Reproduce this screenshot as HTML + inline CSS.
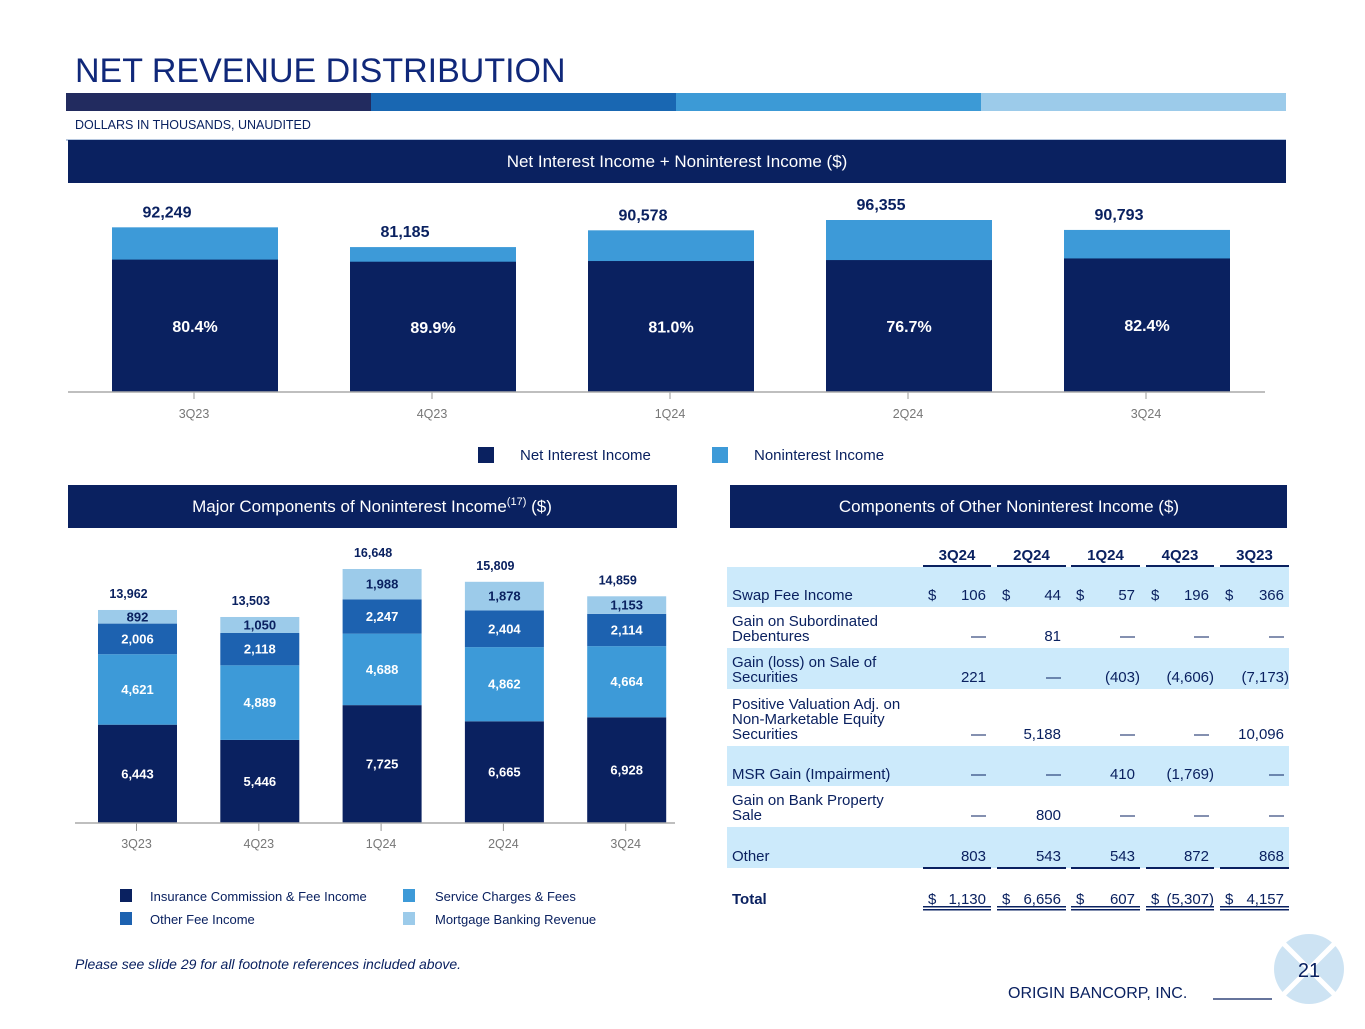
<!DOCTYPE html>
<html><head><meta charset="utf-8"><style>
html,body{margin:0;padding:0;background:#fff;}
body{width:1365px;height:1024px;overflow:hidden;font-family:"Liberation Sans",Arial,sans-serif;}
svg text{font-family:"Liberation Sans",Arial,sans-serif;}
</style></head><body>
<svg id="s" width="1365" height="1024" viewBox="0 0 1365 1024" xmlns="http://www.w3.org/2000/svg">
<text x="75" y="82" font-size="34" fill="#10287a">NET REVENUE DISTRIBUTION</text>
<g>
<rect x="66" y="93" width="305" height="18" fill="#222b5f"/>
<rect x="371" y="93" width="305" height="18" fill="#1967b2"/>
<rect x="676" y="93" width="305" height="18" fill="#3c9ad6"/>
<rect x="981" y="93" width="305" height="18" fill="#9ccbea"/>
</g>
<text x="75" y="129" font-size="12.5" fill="#0a2160">DOLLARS IN THOUSANDS, UNAUDITED</text>
<line x1="66" y1="140" x2="1286" y2="140" stroke="#6d8fbf" stroke-width="1"/>
<rect x="68" y="140" width="1218" height="43" fill="#0a2160"/>
<text x="677" y="167" font-size="17" fill="#fff" text-anchor="middle">Net Interest Income + Noninterest Income ($)</text>
<g id="top"></g>
<g>
<rect x="478" y="447" width="16" height="16" fill="#0a2160"/>
<text x="520" y="460" font-size="15" fill="#0a2160">Net Interest Income</text>
<rect x="712" y="447" width="16" height="16" fill="#3d9ad8"/>
<text x="754" y="460" font-size="15" fill="#0a2160">Noninterest Income</text>
</g>
<rect x="68" y="485" width="609" height="43" fill="#0a2160"/>
<text x="372" y="512" font-size="17" fill="#fff" text-anchor="middle">Major Components of Noninterest Income<tspan font-size="11" dy="-7">(17)</tspan><tspan dy="7"> ($)</tspan></text>
<g id="bot"></g>
<g font-size="13" fill="#0a2160">
<rect x="120" y="889" width="12" height="13" fill="#0a2160"/><text x="150" y="901">Insurance Commission &amp; Fee Income</text>
<rect x="403" y="889" width="12" height="13" fill="#3d9ad8"/><text x="435" y="901">Service Charges &amp; Fees</text>
<rect x="120" y="912" width="12" height="13" fill="#1d62b0"/><text x="150" y="924">Other Fee Income</text>
<rect x="403" y="912" width="12" height="13" fill="#9ccbea"/><text x="435" y="924">Mortgage Banking Revenue</text>
</g>
<text x="75" y="969" font-size="14" font-style="italic" fill="#0a2160">Please see slide 29 for all footnote references included above.</text>
<rect x="730" y="485" width="557" height="43" fill="#0a2160"/>
<text x="1009" y="512" font-size="17" fill="#fff" text-anchor="middle">Components of Other Noninterest Income ($)</text>
<g id="tbl"></g>
<text x="1008" y="998" font-size="16" fill="#0a2160">ORIGIN BANCORP, INC.</text>
<line x1="1213" y1="999" x2="1272" y2="999" stroke="#0a2160" stroke-width="1.2"/>
<g>
<circle cx="1309" cy="969" r="35" fill="#cde3f3"/>
<line x1="1284" y1="944" x2="1334" y2="994" stroke="#fff" stroke-width="5"/>
<line x1="1334" y1="944" x2="1284" y2="994" stroke="#fff" stroke-width="5"/>
<text x="1309" y="977" font-size="20" fill="#0a2160" text-anchor="middle">21</text>
</g>
</svg>
<script>
const NS="http://www.w3.org/2000/svg";
function mk(p,t,a,txt){const e=document.createElementNS(NS,t);for(const k in a)e.setAttribute(k,a[k]);if(txt!==undefined)e.textContent=txt;p.appendChild(e);return e;}

// top chart data
const topCats=["3Q23","4Q23","1Q24","2Q24","3Q24"];
const topTotals=[92249,81185,90578,96355,90793];
const topNiiPct=[80.4,89.9,81.0,76.7,82.4];
const topTotalLabels=["92,249","81,185","90,578","96,355","90,793"];

// bottom chart data
const botCats=["3Q23","4Q23","1Q24","2Q24","3Q24"];
const insurance=[6443,5446,7725,6665,6928];
const service=[4621,4889,4688,4862,4664];
const otherFee=[2006,2118,2247,2404,2114];
const mortgage=[892,1050,1988,1878,1153];

// table data
const tblCols=["3Q24","2Q24","1Q24","4Q23","3Q23"];
const tblRows=[
 ["Swap Fee Income"],
 ["Gain on Subordinated","Debentures"],
 ["Gain (loss) on Sale of","Securities"],
 ["Positive Valuation Adj. on","Non-Marketable Equity","Securities"],
 ["MSR Gain (Impairment)"],
 ["Gain on Bank Property","Sale"],
 ["Other"]];
const tblVals=[
 ["106","44","57","196","366"],
 ["—","81","—","—","—"],
 ["221","—","(403)","(4,606)","(7,173)"],
 ["—","5,188","—","—","10,096"],
 ["—","—","410","(1,769)","—"],
 ["—","800","—","—","—"],
 ["803","543","543","872","868"]];
const tblTotals=["1,130","6,656","607","(5,307)","4,157"];

function fmt(v){return v.toLocaleString("en-US");}

// top chart
(function(){
 const g=document.getElementById("top");
 const base=392, sc=172/96355, x0=112, step=238, w=166;
 const yv=v=>base-v*sc;
 topCats.forEach((c,i)=>{
  const x=x0+i*step, tot=topTotals[i], nii=tot*topNiiPct[i]/100;
  let r=mk(g,"rect",{x:x,y:yv(tot),width:w,height:tot*sc,fill:"#3d9ad8"});
  
  
  r=mk(g,"rect",{x:x,y:yv(nii),width:w,height:nii*sc,fill:"#0a2160"});
  
  
  let t=mk(g,"text",{x:x+w/2,y:(yv(nii)+base)/2+6,"font-size":16,"font-weight":"bold",fill:"#fff","text-anchor":"middle"},topNiiPct[i].toFixed(1)+"%");
  
  
  t=mk(g,"text",{x:x+w/2-28,y:yv(tot)-10,"font-size":16,"font-weight":"bold",fill:"#0a2160","text-anchor":"middle"},topTotalLabels[i]);
  
  
  mk(g,"line",{x1:x+w/2-1,y1:base,x2:x+w/2-1,y2:base+7,stroke:"#999","stroke-width":1});
  t=mk(g,"text",{x:x+w/2-1,y:418,"font-size":12.5,fill:"#777","text-anchor":"middle"},c);
  
  
 });
 mk(g,"line",{x1:68,y1:base,x2:1265,y2:base,stroke:"#aaa","stroke-width":1.5});
})();

// bottom chart
(function(){
 const g=document.getElementById("bot");
 const base=823, sc=254/16648, x0=98, step=122.3, w=79;
 const series=[[insurance,"#0a2160","#fff","insurance"],[service,"#3d9ad8","#fff","service-charges"],[otherFee,"#1d62b0","#fff","other-fee"],[mortgage,"#9ccbea","#0a2160","mortgage"]];
 botCats.forEach((c,i)=>{
  const x=x0+i*step; let cum=0;
  series.forEach(s=>{
   const v=s[0][i], y=base-(cum+v)*sc, h=v*sc;
   const r=mk(g,"rect",{x:x,y:y,width:w,height:h,fill:s[1]});
   
   
   const t=mk(g,"text",{x:x+w/2,y:y+h/2+4.5,"font-size":13,"font-weight":"bold",fill:s[2],"text-anchor":"middle"},fmt(v));
   
   
   cum+=v;
  });
  let t=mk(g,"text",{x:x+w/2-9,y:base-cum*sc-12,"font-size":12.5,"font-weight":"bold",fill:"#0a2160","text-anchor":"middle"},fmt(cum));
  
  
  mk(g,"line",{x1:x+w/2-1,y1:base,x2:x+w/2-1,y2:base+8,stroke:"#999","stroke-width":1});
  t=mk(g,"text",{x:x+w/2-1,y:848,"font-size":12.5,fill:"#777","text-anchor":"middle"},c);
  
  
 });
 mk(g,"line",{x1:75,y1:base,x2:675,y2:base,stroke:"#aaa","stroke-width":1.5});
})();

// table
(function(){
 const g=document.getElementById("tbl");
 const colL=[923,997,1071,1146,1220], colR=[991,1066,1140,1214,1289];
 const bands=[[567,607],[607,648],[648,689],[689,746],[746,786],[786,827],[827,868]];
 bands.forEach((b,i)=>{ if(i%2===0) mk(g,"rect",{x:727,y:b[0],width:562,height:b[1]-b[0],fill:"#cceafb"}); });
 tblCols.forEach((c,j)=>{
  const t=mk(g,"text",{x:(colL[j]+colR[j])/2,y:560,"font-size":15,"font-weight":"bold",fill:"#0a2160","text-anchor":"middle"},c);
  
  
  mk(g,"rect",{x:colL[j],y:565,width:colR[j]-colL[j],height:2,fill:"#0a2160"});
  mk(g,"rect",{x:colL[j],y:867,width:colR[j]-colL[j],height:2,fill:"#0a2160"});
  mk(g,"rect",{x:colL[j],y:906,width:colR[j]-colL[j],height:1.5,fill:"#0a2160"});
  mk(g,"rect",{x:colL[j],y:909,width:colR[j]-colL[j],height:1.5,fill:"#0a2160"});
 });
 tblRows.forEach((lines,i)=>{
  const bot=bands[i][1]-7;
  lines.forEach((ln,k)=>{
   const t=mk(g,"text",{x:732,y:bot-(lines.length-1-k)*15,"font-size":15,fill:"#0a2160"},ln);
   
   
  });
  tblVals[i].forEach((v,j)=>{
   const neg=v.startsWith("(");
   const t=mk(g,"text",{x:colR[j]-(neg?0:5),y:bot,"font-size":15,fill:"#0a2160","text-anchor":"end"},v);
   
   
   if(i===0) mk(g,"text",{x:colL[j]+5,y:bot,"font-size":15,fill:"#0a2160"},"$");
  });
 });
 let t=mk(g,"text",{x:732,y:904,"font-size":15,"font-weight":"bold",fill:"#0a2160"},"Total");
 
 
 tblTotals.forEach((v,j)=>{
  const neg=v.startsWith("(");
  const t=mk(g,"text",{x:colR[j]-(neg?0:5),y:904,"font-size":15,fill:"#0a2160","text-anchor":"end"},v);
  
  
  mk(g,"text",{x:colL[j]+5,y:904,"font-size":15,fill:"#0a2160"},"$");
 });
})();
</script>
</body></html>
